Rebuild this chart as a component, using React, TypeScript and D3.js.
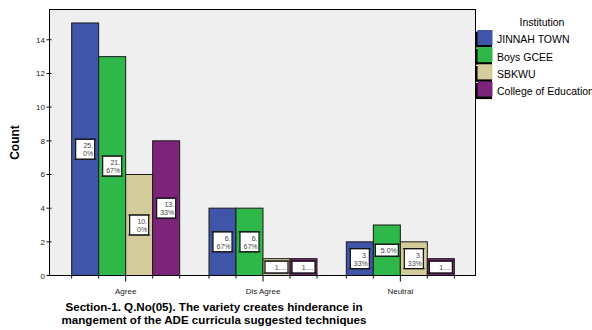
import React from "react";
import * as d3 from "d3";

// Responses per institution for each answer category
const categories = ["Agree", "Dis Agree", "Neutral"];
const institutions = ["JINNAH TOWN", "Boys GCEE", "SBKWU", "College of Education"];
const jinnahTown = [15, 4, 2];
const boysGcee = [13, 4, 3];
const sbkwu = [6, 1, 2];
const collegeOfEducation = [8, 1, 1];
const yTicks = [0, 2, 4, 6, 8, 10, 12, 14];
const titleLines = [
  "Section-1. Q.No(05). The variety creates hinderance in",
  "mangement of the ADE curricula suggested techniques",
];

const seriesValues = [jinnahTown, boysGcee, sbkwu, collegeOfEducation];
const colors = ["#3e55a8", "#2fb84a", "#d4cd9b", "#7b2479"];

const W = 592;
const H = 330;
const plot = { left: 49.5, right: 475.5, top: 9.5, bottom: 275.5 };
const FONT = "'Liberation Sans', Arial, sans-serif";

function pctText(v: number, total: number) {
  let s = ((v / total) * 100).toFixed(2);
  if (s.endsWith("0")) s = s.slice(0, -1);
  return s + "%";
}

export default function App() {
  const total = d3.sum(seriesValues.flat());
  const y = d3.scaleLinear().domain([0, 15.8]).range([plot.bottom, plot.top]);
  const x = d3.scaleBand<string>().domain(categories).range([57, 469]).padding(0);
  const groupW = 108;
  const inner = d3
    .scaleBand<string>()
    .domain(institutions)
    .range([-groupW / 2, groupW / 2])
    .padding(0);
  const bw = inner.bandwidth();

  const bars: any[] = [];
  categories.forEach((cat, ci) => {
    const cx = (x(cat) as number) + x.bandwidth() / 2;
    institutions.forEach((inst, si) => {
      const v = seriesValues[si][ci];
      bars.push({ cat, ci, inst, si, v, x0: cx + (inner(inst) as number), cx });
    });
  });

  return (
    <div style={{ position: "fixed", left: 0, top: 0 }}>
      <svg width={W} height={H} style={{ display: "block", background: "#fff" }}>
        {/* plot frame */}
        <rect
          x={plot.left}
          y={plot.top}
          width={plot.right - plot.left}
          height={plot.bottom - plot.top}
          fill="#efefef"
          stroke="#000"
          strokeWidth={1}
        />

        {/* bars */}
        {bars.map((b, i) => (
          <rect
            key={"b" + i}
            x={b.x0}
            y={y(b.v)}
            width={bw}
            height={y(0) - y(b.v)}
            fill={colors[b.si]}
            stroke="#1a1a1a"
            strokeWidth={1}
          />
        ))}

        {/* value labels */}
        {bars.map((b, i) => {
          const full = pctText(b.v, total);
          const barPx = y(0) - y(b.v);
          let lines: string[];
          if (full.length <= 4) lines = [full];
          else if (barPx >= 22) {
            const k = full.indexOf(".") + 1;
            lines = [full.slice(0, k), full.slice(k)];
          } else lines = [full[0] + "...."];
          const maxChars = d3.max(lines, (l) => l.length) as number;
          const bwBox = Math.min(bw - 4, maxChars * 4 + 7);
          const bh = lines.length * 8 + 4;
          const cy = y(b.v / 2);
          const bx = b.x0 + bw / 2 - bwBox / 2;
          const by = cy - bh / 2;
          return (
            <g key={"l" + i}>
              <rect x={bx} y={by} width={bwBox} height={bh} fill="#fff" stroke="#111" strokeWidth={1.2} />
              <line x1={bx - 1.5} x2={bx + bwBox + 1.5} y1={by} y2={by} stroke="#111" strokeWidth={0.8} />
              <line x1={bx - 1.5} x2={bx + bwBox + 1.5} y1={by + bh} y2={by + bh} stroke="#111" strokeWidth={0.8} />
              {lines.map((l, li) => (
                <text
                  key={li}
                  x={bx + bwBox - 1.5}
                  y={by + 9 + li * 8}
                  textAnchor="end"
                  fontFamily={FONT}
                  fontSize={7}
                  fill="#444"
                >
                  {l}
                </text>
              ))}
            </g>
          );
        })}

        {/* x axis */}
        <line x1={plot.left} x2={plot.right} y1={plot.bottom} y2={plot.bottom} stroke="#000" strokeWidth={1} />
        {categories.map((cat) => {
          const cx = (x(cat) as number) + x.bandwidth() / 2;
          const edges = d3.range(institutions.length + 1).map((k) => cx - groupW / 2 + k * bw);
          return (
            <g key={"x" + cat}>
              {edges.map((e, k) => (
                <line
                  key={k}
                  x1={e}
                  x2={e}
                  y1={plot.bottom}
                  y2={plot.bottom + (k === 2 ? 6 : 3)}
                  stroke="#000"
                  strokeWidth={1}
                />
              ))}
              <text x={cx} y={294} textAnchor="middle" fontFamily={FONT} fontSize={8} fill="#222">
                {cat}
              </text>
            </g>
          );
        })}

        {/* y axis */}
        <line x1={plot.left} x2={plot.left} y1={plot.top} y2={plot.bottom} stroke="#000" strokeWidth={1} />
        {yTicks.map((t) => (
          <g key={"y" + t}>
            <line x1={plot.left - 3} x2={plot.left + 2} y1={y(t)} y2={y(t)} stroke="#000" strokeWidth={1} />
            <text x={45} y={y(t) + 3} textAnchor="end" fontFamily={FONT} fontSize={8} fill="#222">
              {t}
            </text>
          </g>
        ))}
        <text
          transform={`translate(19,${142.5}) rotate(-90)`}
          textAnchor="middle"
          fontFamily={FONT}
          fontSize={12}
          fontWeight="bold"
          fill="#000"
        >
          Count
        </text>

        {/* legend */}
        <text x={542} y={26} textAnchor="middle" fontFamily={FONT} fontSize={10.5} fill="#000">
          Institution
        </text>
        {institutions.map((inst, i) => {
          const cy = 39.5 + i * 17.2;
          return (
            <g key={"lg" + i}>
              <rect x={476} y={cy - 8} width={16} height={16} fill="#000" />
              <rect x={477.5} y={cy - 9.5} width={15} height={15} fill={colors[i]} />
              <text x={497} y={cy + 3.8} fontFamily={FONT} fontSize={10.5} fill="#000">
                {inst}
              </text>
            </g>
          );
        })}

        {/* title */}
        {titleLines.map((l, i) => (
          <text
            key={"t" + i}
            x={214}
            y={311 + i * 12.5}
            textAnchor="middle"
            fontFamily={FONT}
            fontSize={11.6}
            fontWeight="bold"
            fill="#000"
          >
            {l}
          </text>
        ))}
      </svg>
    </div>
  );
}
